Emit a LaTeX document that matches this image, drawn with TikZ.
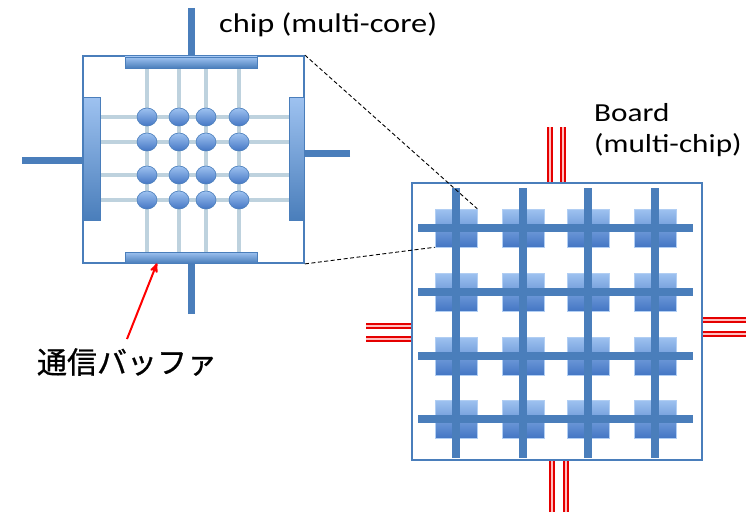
\documentclass[tikz,border=0pt]{standalone}
\usepackage{fontspec}
\setmainfont[FakeStretch=1.2]{Carlito}
\newfontfamily\jpfont[FakeBold=0.8]{Noto Sans CJK JP}
\usetikzlibrary{arrows,shapes.geometric,backgrounds}

\definecolor{chipblue}{RGB}{74,126,187}
\definecolor{wireblue}{RGB}{190,210,222}
\definecolor{paleblue}{RGB}{158,194,240}
\definecolor{deepblue}{RGB}{68,118,196}

\begin{document}
\begin{tikzpicture}[x=1pt,y=-1pt,>=stealth',
  frame node/.style={draw=chipblue,line width=1.8pt,inner sep=0pt},
  buffer node/.style={draw=chipblue,line width=0.6pt,inner sep=0pt,top color=paleblue,bottom color=chipblue},
  core node/.style={ellipse,draw=chipblue,line width=0.6pt,inner sep=0pt,minimum width=20pt,minimum height=18pt,top color=paleblue,bottom color=deepblue},
  board chip/.style={draw=paleblue!80!white,line width=0.5pt,inner sep=0pt,minimum width=42pt,minimum height=38pt,top color=paleblue,bottom color=deepblue},
  stub/.style={draw=chipblue,line width=7pt},
  wire/.style={draw=wireblue,line width=4.5pt},
  bar/.style={draw=chipblue,line width=8pt},
  link/.style={draw=red!90!black,line width=2.6pt,double=red!25!white,double distance=1.6pt},
  zoom line/.style={draw=black,line width=0.9pt,dash pattern=on 4pt off 2.5pt},
  label/.style={inner sep=0pt,font=\fontsize{27}{31}\selectfont}]
\useasboundingbox (0,0) rectangle (746,519);

% chip
\node[frame node,minimum width=221pt,minimum height=207pt] (chip) at (193.5,159.5) {};
\coordinate (topend) at (191,8);
\coordinate (botend) at (191,314);
\coordinate (leftend) at (22,160);
\coordinate (rightend) at (350,153);
\draw[stub] (topend) -- (topend |- chip.north);
\draw[stub] (botend) -- (botend |- chip.south);
\draw[stub] (leftend) -- (leftend -| chip.west);
\draw[stub] (rightend) -- (rightend -| chip.east);
\node[buffer node,minimum width=132pt,minimum height=11pt] (topbuf) at (191,62.5) {};
\node[buffer node,minimum width=132pt,minimum height=11pt] (botbuf) at (191,257.5) {};
\node[buffer node,minimum width=17pt,minimum height=123pt] (leftbuf) at (91.5,158.5) {};
\node[buffer node,minimum width=15pt,minimum height=123pt] (rightbuf) at (297,158.5) {};

\foreach \x [count=\i] in {147,179,206,239}
  \foreach \y [count=\j] in {117,142,175,200}
    \node[core node] (core\j\i) at (\x,\y) {};

\begin{scope}[on background layer]
\foreach \i in {1,...,4} {
  \draw[wire] (topbuf.south -| core1\i) -- (botbuf.north -| core1\i);
  \draw[wire] (leftbuf.east |- core\i1) -- (rightbuf.west |- core\i1);
}
\end{scope}

\node[label,anchor=base west] (chiplabel) at (219,33) {chip (multi-core)};

% board
\node[frame node,minimum width=290pt,minimum height=277pt] (board) at (557,321.5) {};
\foreach \x in {550,563}
  \draw[link] (\x,127) coordinate (up) -- (up |- board.north);
\foreach \x in {552,566}
  \draw[link] (\x,512) coordinate (down) -- (down |- board.south);
\foreach \y in {326,339}
  \draw[link] (366,\y) coordinate (west) -- (west -| board.west);
\foreach \y in {320,334}
  \draw[link] (746,\y) coordinate (east) -- (east -| board.east);

\foreach \x [count=\i] in {456,523,588,655}
  \foreach \y [count=\j] in {228,292,356,419}
    \node[board chip] (c\j\i) at (\x,\y) {};
\foreach \i in {1,...,4} {
  \draw[bar] ([yshift=40pt]c1\i.center) -- ([yshift=-39pt]c4\i.center);
  \draw[bar] ([xshift=-38pt]c\i1.center) -- ([xshift=38pt]c\i4.center);
}

\node[label,anchor=base west,align=left,font=\fontsize{26}{31}\selectfont] (boardlabel) at (594,152) {Board\\(multi-chip)};

% zoom lines
\draw[zoom line] (chip.north east) -- (c11.north east);
\draw[zoom line] (chip.south east) -- (c11.south west);

% buffer label
\node[inner sep=0pt,font=\jpfont\fontsize{30}{36}\selectfont] (buflabel) at (127,362) {通信バッファ};
\draw[->,red,line width=2pt] ([yshift=9pt]buflabel.north) -- ([xshift=-34pt]botbuf.south);

\end{tikzpicture}
\end{document}
